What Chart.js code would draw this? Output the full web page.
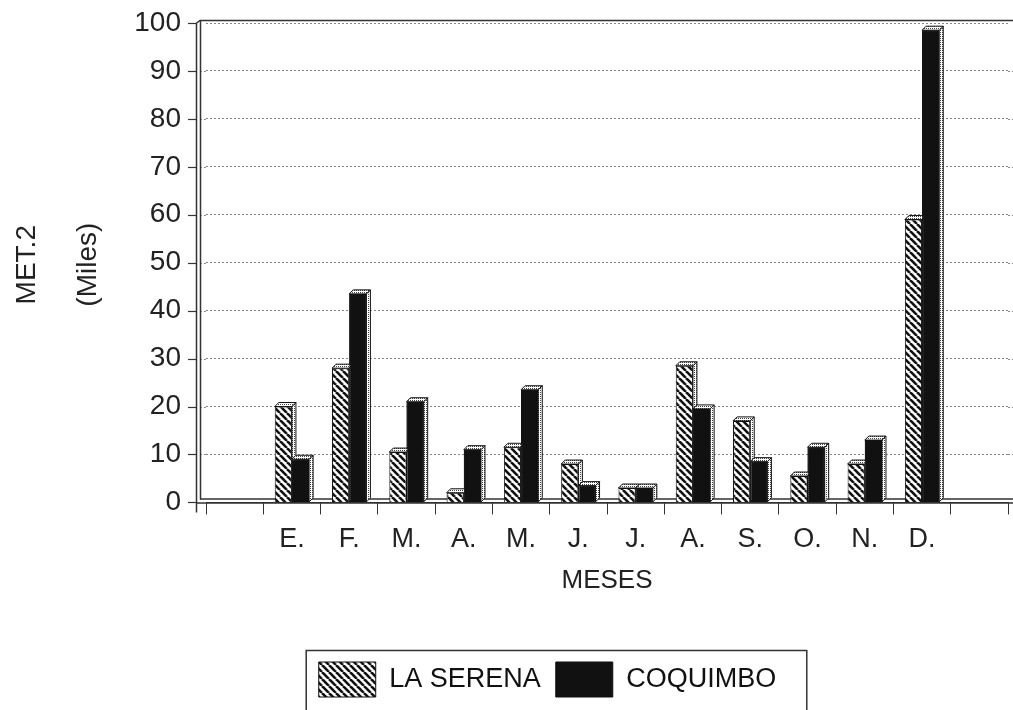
<!DOCTYPE html>
<html><head><meta charset="utf-8">
<script src="https://cdn.jsdelivr.net/npm/chart.js@4.4.1/dist/chart.umd.min.js"></script>
<style>html,body{margin:0;padding:0;background:#fff;}#wrap{width:1013px;height:710px;}</style>
</head><body><div id="wrap"><canvas id="c" width="1013" height="710"></canvas></div>
<script>
// ---- data ----
const months = ['E.','F.','M.','A.','M.','J.','J.','A.','S.','O.','N.','D.'];
const laSerena = [20, 28, 10.5, 2, 11.5, 8, 3, 28.5, 17, 5.5, 8, 59];
const coquimbo = [9, 43.5, 21, 11, 23.5, 3.5, 3, 19.5, 8.5, 11.5, 13, 98.5];
const yTicks = [0,10,20,30,40,50,60,70,80,90,100];
const seriesNames = ['LA SERENA','COQUIMBO'];
const yTitleLines = ['MET.2','(Miles)'];
const xTitle = 'MESES';

// empty slots before and after the months
const labels = ['', ...months, ''];
const padded = a => [null, ...a, null];

const FONT = "'Liberation Sans', Arial, Helvetica, sans-serif";
Chart.defaults.font.family = FONT;

function hatchPattern(){
  const s = 7, c = document.createElement('canvas'); c.width = s; c.height = s;
  const g = c.getContext('2d');
  g.fillStyle = '#fff'; g.fillRect(0,0,s,s);
  g.strokeStyle = '#111'; g.lineWidth = 2.6;
  for (const k of [-s, 0, s]) { g.beginPath(); g.moveTo(k,0); g.lineTo(k+s,s); g.stroke(); }
  return g.createPattern(c,'repeat');
}
function dotPattern(){
  const c = document.createElement('canvas'); c.width = 2; c.height = 2;
  const g = c.getContext('2d');
  g.fillStyle = '#fff'; g.fillRect(0,0,2,2);
  g.fillStyle = '#444'; g.fillRect(0,0,1,1);
  return g.createPattern(c,'repeat');
}
const faceFill = dotPattern();
const DEPTH = 4;     // 3D bar depth
const WALL = 6;      // wall offset left of the plot area

function drawFaces(chart, dsIndex, redraw){
  const ctx = chart.ctx;
  const meta = chart.getDatasetMeta(dsIndex);
  const vals = chart.data.datasets[dsIndex].data;
  meta.data.forEach((bar, i) => {
    if (vals[i] == null) return;
    if (redraw) bar.draw(ctx);
    const {x, y, base, width} = bar.getProps(['x','y','base','width'], true);
    const l = x - width/2, r = x + width/2, d = DEPTH;
    ctx.save();
    ctx.fillStyle = faceFill; ctx.strokeStyle = '#111'; ctx.lineWidth = 1;
    ctx.beginPath(); ctx.moveTo(r, y); ctx.lineTo(r+d, y-d); ctx.lineTo(r+d, base-d); ctx.lineTo(r, base); ctx.closePath(); ctx.fill(); ctx.stroke();
    ctx.beginPath(); ctx.moveTo(l, y); ctx.lineTo(l+d, y-d); ctx.lineTo(r+d, y-d); ctx.lineTo(r, y); ctx.closePath(); ctx.fill(); ctx.stroke();
    ctx.restore();
  });
}

const decor = {
  id: 'decor',
  beforeDatasetsDraw(chart){
    const ctx = chart.ctx, ca = chart.chartArea, ys = chart.scales.y;
    const wx = ca.left - WALL;
    ctx.save();
    // gridline extensions
    ctx.strokeStyle = '#888'; ctx.lineWidth = 1; ctx.setLineDash([2,2]);
    yTicks.forEach(v => {
      if (v === 0 || v === 100) return;
      const y = Math.round(ys.getPixelForValue(v)) + 0.5;
      ctx.beginPath(); ctx.moveTo(wx, y); ctx.lineTo(ca.left, y);
      ctx.moveTo(ca.right, y); ctx.lineTo(chart.width, y); ctx.stroke();
    });
    ctx.setLineDash([]);
    ctx.strokeStyle = '#333'; ctx.lineWidth = 1.5;
    const topY = Math.round(ys.getPixelForValue(100)) - 2.5;
    // top solid line
    ctx.beginPath(); ctx.moveTo(wx - 4, topY + 3); ctx.lineTo(wx, topY); ctx.lineTo(chart.width, topY); ctx.stroke();
    // double wall lines
    ctx.beginPath();
    ctx.moveTo(wx + 0.5, topY); ctx.lineTo(wx + 0.5, ca.bottom - 3);
    ctx.moveTo(wx - 3.5, topY + 3); ctx.lineTo(wx - 3.5, ca.bottom + 10);
    ctx.stroke();
    // tick marks
    ctx.lineWidth = 1.2;
    yTicks.forEach(v => {
      const y = Math.round(ys.getPixelForValue(v)) + 0.5;
      ctx.beginPath(); ctx.moveTo(wx - 12, y); ctx.lineTo(wx - 3.5, y); ctx.stroke();
    });
    // floor lines
    ctx.lineWidth = 1.5;
    ctx.beginPath();
    ctx.moveTo(wx, ca.bottom - 3.5); ctx.lineTo(chart.width, ca.bottom - 3.5);
    ctx.moveTo(wx - 4, ca.bottom + 0.5); ctx.lineTo(chart.width, ca.bottom + 0.5);
    ctx.stroke();
    ctx.restore();
  },
  afterDatasetsDraw(chart){
    // LA SERENA faces first, then COQUIMBO bars on top of them, then COQUIMBO faces
    drawFaces(chart, 0, false);
    drawFaces(chart, 1, true);
  },
  afterDraw(chart){
    const ctx = chart.ctx, ca = chart.chartArea;
    ctx.save();
    // y-axis title lines
    ctx.fillStyle = '#222'; ctx.font = '28px ' + FONT;
    ctx.textAlign = 'center'; ctx.textBaseline = 'middle';
    const midY = (ca.top + ca.bottom) / 2 + 2;
    yTitleLines.forEach((t, i) => {
      ctx.save(); ctx.translate(27 + i * 61, midY); ctx.rotate(-Math.PI/2); ctx.fillText(t, 0, 0); ctx.restore();
    });
    // legend frame
    const hb = chart.legend.legendHitBoxes;
    if (hb && hb.length) {
      const last = hb[hb.length - 1];
      const left = hb[0].left - 13, right = last.left + last.width + 30;
      const top = hb[0].top - 12;
      ctx.strokeStyle = '#333'; ctx.lineWidth = 1.5;
      ctx.strokeRect(left + 0.5, top + 0.5, right - left, chart.height + 10 - top);
    }
    ctx.restore();
  }
};

new Chart(document.getElementById('c'), {
  type: 'bar',
  data: {
    labels: labels,
    datasets: [
      { label: seriesNames[0], data: padded(laSerena), backgroundColor: hatchPattern(), borderColor: '#111', borderWidth: 1,
        categoryPercentage: 0.6, barPercentage: 1 },
      { label: seriesNames[1], data: padded(coquimbo), backgroundColor: '#111', borderColor: '#111', borderWidth: 1,
        categoryPercentage: 0.6, barPercentage: 1 }
    ]
  },
  options: {
    responsive: false, animation: false, devicePixelRatio: 1,
    layout: { padding: { left: 87, right: 5, top: 23, bottom: 3 } },
    plugins: {
      legend: { position: 'bottom',
        labels: { boxWidth: 57, boxHeight: 35, padding: 15, color: '#111', font: { size: 27 } } },
      tooltip: { enabled: false }
    },
    scales: {
      x: {
        grid: { display: true, drawOnChartArea: false, tickLength: 12, color: '#333', offset: true },
        border: { display: true, color: '#333' },
        ticks: { color: '#222', font: { size: 27 }, padding: 9, maxRotation: 0, autoSkip: false },
        title: { display: true, text: xTitle, color: '#222', font: { size: 26 }, padding: { top: 0, bottom: 51 } }
      },
      y: {
        min: 0, max: 100,
        afterFit: s => { s.width = 119; s.paddingTop = 0; s.paddingBottom = 0; },
        afterBuildTicks: s => { s.ticks = yTicks.map(v => ({ value: v })); },
        grid: { color: '#888', drawTicks: false, lineWidth: 1 },
        border: { display: false, dash: [2, 2] },
        ticks: { padding: 25, color: '#222', font: { size: 28 } }
      }
    }
  },
  plugins: [decor]
});
</script></body></html>
